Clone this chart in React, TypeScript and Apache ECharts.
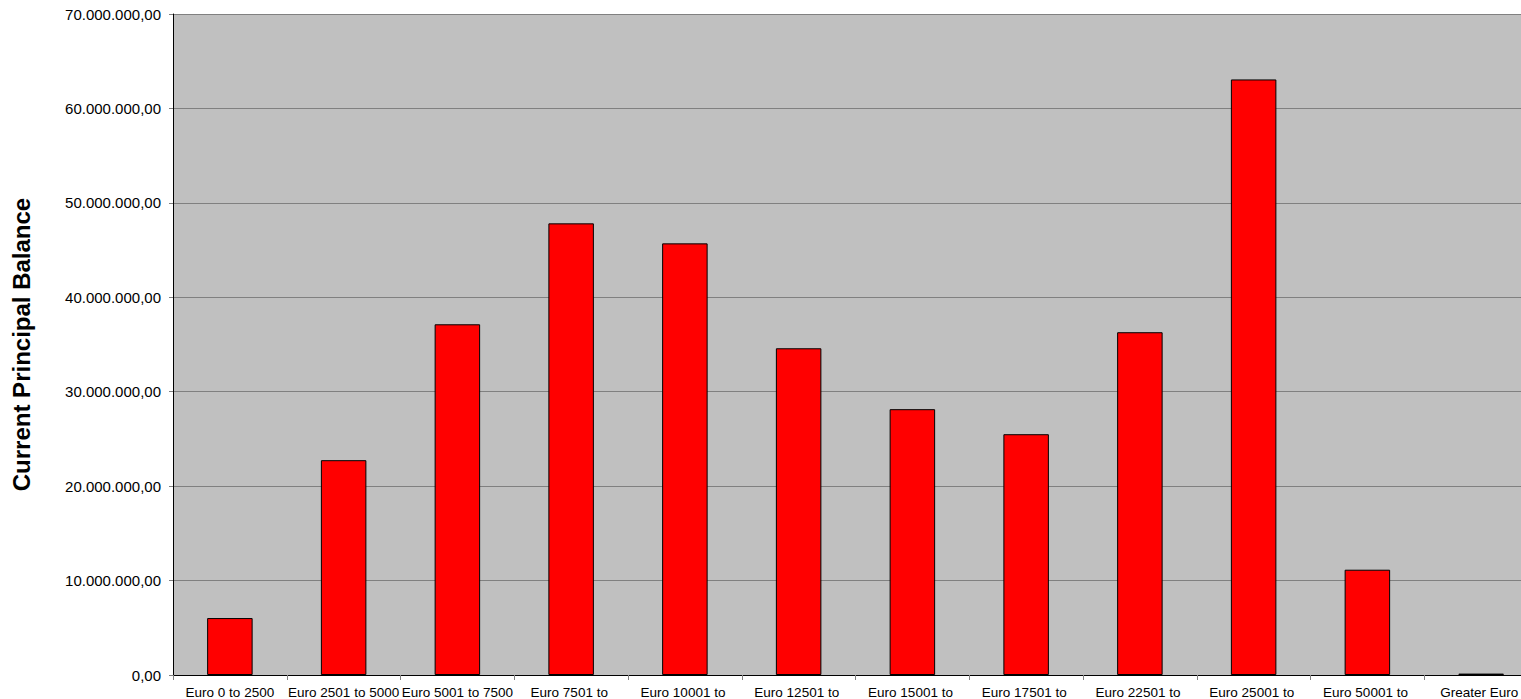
import React, { useEffect, useRef } from "react";
import * as echarts from "echarts";

const categories = [
  "Euro 0 to 2500",
  "Euro 2501 to 5000",
  "Euro 5001 to 7500",
  "Euro 7501 to 10000",
  "Euro 10001 to 12500",
  "Euro 12501 to 15000",
  "Euro 15001 to 17500",
  "Euro 17501 to 22500",
  "Euro 22501 to 25000",
  "Euro 25001 to 50000",
  "Euro 50001 to 75000",
  "Greater Euro 75000",
];

const balances = [
  6030000, 22750000, 37140000, 47830000, 45710000, 34600000, 28150000,
  25500000, 36300000, 63070000, 11150000, 150000,
];

const yTicks = { min: 0, max: 70000000, interval: 10000000 };
const yAxisTitle = "Current Principal Balance";

function formatDE(v: number): string {
  const [intPart, dec] = Math.abs(v).toFixed(2).split(".");
  const withDots = intPart.replace(/\B(?=(\d{3})+(?!\d))/g, ".");
  return (v < 0 ? "-" : "") + withDots + "," + dec;
}

export default function App() {
  const ref = useRef<HTMLDivElement>(null);
  useEffect(() => {
    if (!ref.current) return;
    const chart = echarts.init(ref.current, undefined, { renderer: "svg" });
    chart.setOption({
      animation: false,
      backgroundColor: "#ffffff",
      textStyle: { fontFamily: "Liberation Sans, Arial, sans-serif" },
      grid: {
        left: 173,
        top: 14,
        width: 1365,
        height: 661,
        containLabel: false,
        outerBoundsMode: "none",
        backgroundColor: "#C0C0C0",
        show: true,
        borderWidth: 0,
      },
      xAxis: {
        type: "category",
        data: categories,
        axisLine: { show: true, lineStyle: { color: "#000", width: 1 } },
        axisTick: { show: true, length: 5, lineStyle: { color: "#808080" } },
        axisLabel: {
          interval: 0,
          color: "#000",
          fontSize: 13.5,
          margin: 10,
          width: 113,
          overflow: "break",
          fontFamily: "Liberation Sans, Arial, sans-serif",
        },
      },
      yAxis: {
        type: "value",
        min: yTicks.min,
        max: yTicks.max,
        interval: yTicks.interval,
        name: yAxisTitle,
        nameLocation: "middle",
        nameRotate: 90,
        nameGap: 140,
        nameTextStyle: {
          fontSize: 24,
          fontWeight: "bold",
          color: "#000",
          fontFamily: "Liberation Sans, Arial, sans-serif",
        },
        axisLine: { show: true, lineStyle: { color: "#000", width: 1 } },
        axisTick: { show: true, length: 4, lineStyle: { color: "#808080" } },
        axisLabel: {
          color: "#000",
          fontSize: 15,
          margin: 12,
          formatter: (v: number) => formatDE(v),
          fontFamily: "Liberation Sans, Arial, sans-serif",
        },
        splitLine: { show: true, lineStyle: { color: "#808080", width: 1 } },
      },
      series: [
        {
          type: "bar",
          data: balances,
          barWidth: "40%",
          itemStyle: { color: "#FF0000", borderColor: "#000", borderWidth: 1 },
        },
      ],
    });
    return () => chart.dispose();
  }, []);
  return (
    <div
      ref={ref}
      style={{ position: "fixed", left: 0, top: 0, width: 1521, height: 699 }}
    />
  );
}
